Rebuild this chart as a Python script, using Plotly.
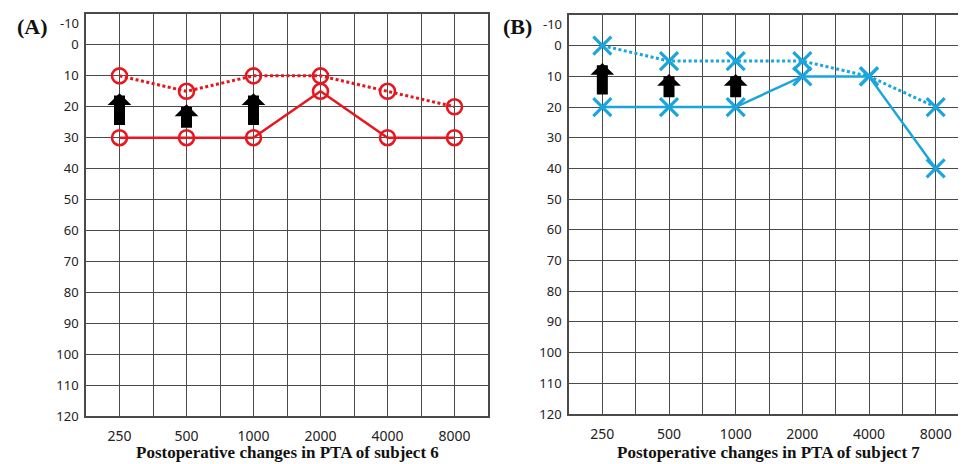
import plotly.graph_objects as go

freqs = ["250", "500", "1000", "2000", "4000", "8000"]
y_ticks = list(range(-10, 130, 10))

# Subject 6 (panel A)
a_post = [10, 15, 10, 10, 15, 20]      # dotted (post-op)
a_pre = [30, 30, 30, 15, 30, 30]       # solid (pre-op)
a_arrows = ["250", "500", "1000"]

# Subject 7 (panel B)
b_post = [0, 5, 5, 5, 10, 20]
b_pre = [20, 20, 20, 10, 10, 40]
b_arrows = ["250", "500", "1000"]

RED = "#e8161e"
BLUE = "#1aa5dd"
GRID = "#4a4a4a"

W, H = 966, 464
OFF = 8  # browser body margin

def px(x):
    return (x - OFF) / W

def py(y):
    return 1 - (y - OFF) / H

xpos = list(range(len(freqs)))

fig = go.Figure()

def add_panel(post, pre, color, symbol, msize, mline, xa, ya):
    fig.add_trace(go.Scatter(
        x=xpos, y=post, mode="lines+markers",
        line=dict(color=color, width=3, dash="3px,2.5px"),
        marker=dict(symbol=symbol, size=msize, color=color,
                    line=dict(color=color, width=mline)),
        xaxis=xa, yaxis=ya, showlegend=False, hoverinfo="skip"))
    fig.add_trace(go.Scatter(
        x=xpos, y=pre, mode="lines+markers",
        line=dict(color=color, width=2.5),
        marker=dict(symbol=symbol, size=msize, color=color,
                    line=dict(color=color, width=mline)),
        xaxis=xa, yaxis=ya, showlegend=False, hoverinfo="skip"))

add_panel(a_post, a_pre, RED, "circle-open", 15, 2.6, "x", "y")
add_panel(b_post, b_pre, BLUE, "x-thin-open", 18, 3.2, "x2", "y2")

def add_arrows(post, pre, which, xr, yr):
    for f in which:
        i = freqs.index(f)
        gap = pre[i] - post[i]
        tail = pre[i] - 0.18 * gap
        tip = post[i] + 0.28 * gap
        fig.add_annotation(x=i, y=tip, ax=i, ay=tail, xref=xr, yref=yr,
                           axref=xr, ayref=yr, showarrow=True, text="",
                           arrowhead=1, arrowsize=0.36, arrowwidth=11,
                           arrowcolor="black")

add_arrows(a_post, a_pre, a_arrows, "x", "y")
add_arrows(b_post, b_pre, b_arrows, "x2", "y2")

tick_font_y = dict(family="Noto Sans", size=13, color="#222")
# top tick label (-10) is placed as an annotation just below the edge so it is not clipped
y_ticktext = [""] + [str(v) for v in y_ticks[1:]]

xcommon = dict(
    tickmode="array", tickvals=xpos, ticktext=freqs,
    showgrid=True, gridcolor=GRID, gridwidth=1.3,
    minor=dict(tick0=0.5, dtick=1, showgrid=True, gridcolor=GRID, gridwidth=1.3),
    showline=True, linecolor=GRID, linewidth=1.5, mirror=True,
    ticks="outside", ticklen=6, tickcolor="rgba(0,0,0,0)",
    tickfont=dict(family="Noto Sans", size=14, color="#222"),
    zeroline=False, automargin=False, ticklabeloverflow="allow",
)
ycommon = dict(
    tickmode="array", tickvals=y_ticks, ticktext=y_ticktext,
    autorange=False, range=[120, -10],
    showgrid=True, gridcolor=GRID, gridwidth=1.3,
    showline=True, linecolor=GRID, linewidth=1.5, mirror=True,
    ticks="outside", ticklen=3, tickcolor="rgba(0,0,0,0)",
    tickfont=tick_font_y,
    zeroline=False, automargin=False, ticklabeloverflow="allow",
)

fig.update_layout(
    width=W, height=H,
    margin=dict(l=0, r=0, t=0, b=0),
    paper_bgcolor="white", plot_bgcolor="white",
    xaxis=dict(xcommon, domain=[px(86), px(488)], range=[-0.5, 5.5], anchor="y"),
    yaxis=dict(ycommon, domain=[py(416), py(14)], anchor="x"),
    xaxis2=dict(xcommon, domain=[px(569), px(969)], range=[-0.5, 5.5], anchor="y2"),
    yaxis2=dict(ycommon, domain=[py(414), py(15)], anchor="x2"),
)

for yr, rx in [("y", 81), ("y2", 564)]:
    fig.add_annotation(text=str(y_ticks[0]), x=px(rx), y=y_ticks[0],
                       xref="paper", yref=yr, xanchor="right", yanchor="top",
                       yshift=2, showarrow=False, font=tick_font_y)

title_font = dict(family="Liberation Serif", size=17, color="#111")
for txt, cx in [("Postoperative changes in PTA of subject 6", 287),
                ("Postoperative changes in PTA of subject 7", 768)]:
    fig.add_annotation(text=f"<b>{txt}</b>", x=px(cx), y=py(452),
                       xref="paper", yref="paper", xanchor="center", yanchor="middle",
                       showarrow=False, font=title_font)

for txt, cx in [("(A)", 32), ("(B)", 517)]:
    fig.add_annotation(text=f"<b>{txt}</b>", x=px(cx), y=py(27),
                       xref="paper", yref="paper", xanchor="center", yanchor="middle",
                       showarrow=False,
                       font=dict(family="Liberation Serif", size=22, color="#111"))

fig.write_html("out.html")
